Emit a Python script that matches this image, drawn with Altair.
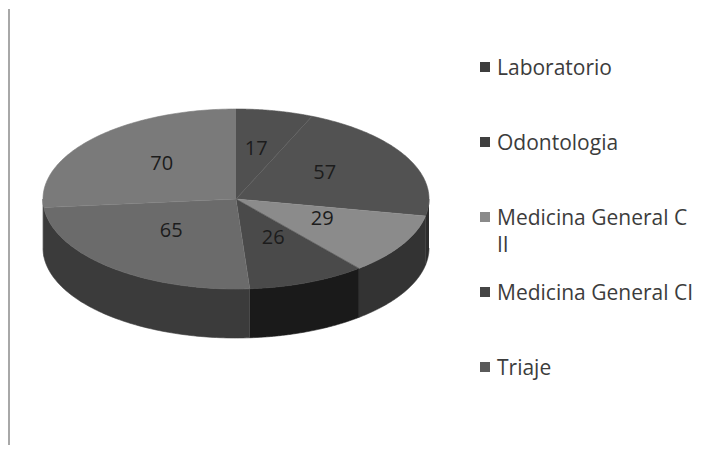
import altair as alt

# ---- data ----
categorias = ["Laboratorio", "Odontologia", "Medicina General  C II",
              "Medicina General CI", "Triaje", "(sexta categoría)"]
valores = [17, 57, 29, 26, 65, 70]
colores_superficie = ["#505050", "#525252", "#8b8b8b", "#4a4a4a", "#6b6b6b", "#7a7a7a"]
colores_lado = ["#2a2a2a", "#2c2c2c", "#333333", "#1a1a1a", "#3b3b3b", "#444444"]

leyenda_etiquetas = ["Laboratorio", "Odontologia", "Medicina General  C\nII",
                     "Medicina General CI", "Triaje"]
leyenda_colores = ["#3d3d3d", "#3f3f3f", "#8a8a8a", "#454545", "#5a5a5a"]

# ---- layout ----
W, H = 702, 436
CX, CY, RX, RY, PROF = 228, 190, 193, 90, 49
N = 90
F = 0.52
LCY = CY - 4
LY0, LDY = 58, 75
FONT = "Open Sans"

pasos = list(range(-1, N + 1))
pasos_lado = list(range(0, 2 * N + 2))
filas = [{"categoria": c, "valor": v, "orden": i, "paso": pasos, "paso2": pasos_lado}
         for i, (c, v) in enumerate(zip(categorias, valores))]
filas_leyenda = [{"etiqueta": e, "i": i} for i, e in enumerate(leyenda_etiquetas)]

xs = alt.Scale(domain=[0, W], range=[0, W])
ys = alt.Scale(domain=[0, H], range=[0, H])
X = alt.X("px:Q", scale=xs, axis=None)
Y = alt.Y("py:Q", scale=ys, axis=None)


def base():
    return (
        alt.Chart(alt.Data(values=filas))
        .transform_window(acum="sum(valor)", sort=[alt.SortField("orden")])
        .transform_joinaggregate(total="sum(valor)")
        .transform_calculate(
            a0="(datum.acum - datum.valor) / datum.total * 2 * PI",
            a1="datum.acum / datum.total * 2 * PI",
        )
    )


sup_scale = alt.Scale(domain=categorias, range=colores_superficie)
lado_scale = alt.Scale(domain=categorias, range=colores_lado)

lados = (
    base()
    .transform_calculate(s0="max(datum.a0, PI / 2)", s1="min(datum.a1, 3 * PI / 2)")
    .transform_filter("datum.s1 > datum.s0")
    .transform_flatten(["paso2"])
    .transform_calculate(q=f"datum.paso2 <= {N} ? datum.paso2 : {2 * N + 1} - datum.paso2")
    .transform_calculate(th=f"datum.s0 + (datum.s1 - datum.s0) * datum.q / {N}")
    .transform_calculate(
        px=f"{CX} + {RX} * sin(datum.th)",
        py=f"{CY} - {RY} * cos(datum.th) + (datum.paso2 > {N} ? {PROF} : 0)",
    )
    .mark_line(filled=True, strokeWidth=0.6)
    .encode(
        x=X, y=Y,
        order=alt.Order("paso2:Q"),
        detail="categoria:N",
        color=alt.Color("categoria:N", scale=lado_scale, legend=None),
        stroke=alt.Stroke("categoria:N", scale=lado_scale, legend=None),
    )
)

superficie = (
    base()
    .transform_flatten(["paso"])
    .transform_calculate(th=f"datum.a0 + (datum.a1 - datum.a0) * max(datum.paso, 0) / {N}")
    .transform_calculate(
        px=f"datum.paso < 0 ? {CX} : {CX} + {RX} * sin(datum.th)",
        py=f"datum.paso < 0 ? {CY} : {CY} - {RY} * cos(datum.th)",
    )
    .mark_line(filled=True, strokeWidth=0.6)
    .encode(
        x=X, y=Y,
        order=alt.Order("paso:Q"),
        detail="categoria:N",
        color=alt.Color("categoria:N", scale=sup_scale, legend=None),
        stroke=alt.Stroke("categoria:N", scale=sup_scale, legend=None),
    )
)

etiquetas = (
    base()
    .transform_calculate(mid="(datum.a0 + datum.a1) / 2")
    .transform_calculate(
        px=f"{CX} + {F} * {RX} * sin(datum.mid)",
        py=f"{LCY} - {F} * {RY} * cos(datum.mid)",
    )
    .mark_text(font=FONT, fontSize=20, color="#1c1c1c")
    .encode(x=X, y=Y, text="valor:Q")
)

ley_base = alt.Chart(alt.Data(values=filas_leyenda)).transform_calculate(
    py=f"{LY0} + datum.i * {LDY}"
)
ley_cuadros = ley_base.mark_square(size=100, opacity=1, filled=True).encode(
    x=alt.value(477), y=Y,
    color=alt.Color("etiqueta:N", scale=alt.Scale(domain=leyenda_etiquetas, range=leyenda_colores), legend=None),
)
ley_textos = ley_base.transform_calculate(pt="datum.py + 8").mark_text(
    font=FONT, fontSize=21, align="left", baseline="alphabetic",
    lineBreak="\n", lineHeight=27, color="#3c3c3c",
).encode(x=alt.value(489), y=alt.Y("pt:Q", scale=ys, axis=None), text="etiqueta:N")

borde = alt.Chart(alt.Data(values=[{"b": 0}])).mark_rule(color="#a8a8a8", strokeWidth=2).encode(
    x=alt.value(1), y=alt.value(0), y2=alt.value(H)
)

chart = (
    alt.layer(borde, lados, superficie, etiquetas, ley_cuadros, ley_textos)
    .resolve_scale(color="independent", stroke="independent")
    .properties(width=W, height=H, padding=0, background="white")
    .configure_view(stroke=None)
)

chart.save("out.html", embed_options={"renderer": "svg", "actions": False})
